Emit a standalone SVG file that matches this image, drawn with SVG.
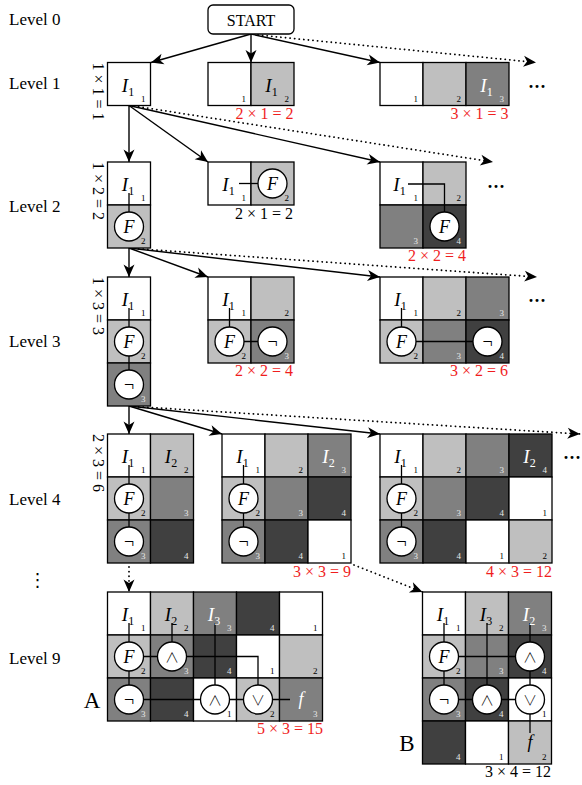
<svg xmlns="http://www.w3.org/2000/svg" width="582" height="785" viewBox="0 0 582 785">
<defs>
<marker id="ah" viewBox="-13 -7 14 14" refX="0" refY="0" markerWidth="14" markerHeight="14" markerUnits="userSpaceOnUse" orient="auto">
<path d="M0,0 L-12.5,-5.5 L-9,0 L-12.5,5.5 Z" fill="#000"/>
</marker>
</defs>
<style>
.f1{fill:#fff}.f2{fill:#bfbfbf}.f3{fill:#808080}.f4{fill:#404040}
rect{stroke:#000;stroke-width:1.3}
.w{fill:none;stroke:#000;stroke-width:1.3}
.g{fill:#fff;stroke:#000;stroke-width:1.3}
.t{font-family:'Liberation Serif';}
.n{font-size:9px;text-anchor:end}
.d{fill:#000}.l{fill:#e8e8e8}
.I{font-size:19px;font-style:italic;text-anchor:middle}
.I tspan{font-size:12px;font-style:normal}
.s{font-size:18px;text-anchor:middle}
.op{font-family:'Noto Sans CJK JP','DejaVu Sans',sans-serif;font-size:14px;font-weight:300;text-anchor:middle}
.it{font-style:italic}
.wt{fill:#fff}
.red{fill:#f01e1e}
.m{font-size:16px;text-anchor:end}
.r{font-size:16px}
.lv{font-size:17px}
.dots{font-size:18px;font-weight:bold}
.cn{fill:none;stroke:#000;stroke-width:1.4}
.dt{stroke-dasharray:0.1 4.5;stroke-linecap:round;stroke-width:1.8}
</style>

<g id="labels" class="t" font-family="Liberation Serif">
<text class="lv" x="9" y="25">Level 0</text>
<text class="lv" x="9" y="89">Level 1</text>
<text class="lv" x="9" y="212">Level 2</text>
<text class="lv" x="9" y="347">Level 3</text>
<text class="lv" x="9" y="505">Level 4</text>
<text class="lv" x="9" y="664">Level 9</text>
<text x="37.5" y="586" style="font-family:'DejaVu Sans',sans-serif;font-size:18px;text-anchor:middle">⋮</text>
<text class="r" transform="translate(92.5,62.5) rotate(90)">1 × 1 = 1</text>
<text class="r" transform="translate(92.5,162) rotate(90)">1 × 2 = 2</text>
<text class="r" transform="translate(92.5,277) rotate(90)">1 × 3 = 3</text>
<text class="r" transform="translate(92.5,434) rotate(90)">2 × 3 = 6</text>
<text class="dots" x="528" y="92.5">···</text>
<text class="dots" x="487" y="192.5">···</text>
<text class="dots" x="528" y="306.5">···</text>
<text class="dots" x="563" y="464">···</text>
<text x="92" y="708" style="font-size:23px;text-anchor:middle">A</text>
<text x="407" y="751" style="font-size:23px;text-anchor:middle">B</text>
</g>

<g id="connectors">
<line class="cn" x1="251" y1="34" x2="151" y2="62.5" marker-end="url(#ah)"/>
<line class="cn" x1="251" y1="34" x2="251" y2="62.5" marker-end="url(#ah)"/>
<line class="cn" x1="251" y1="34" x2="380" y2="62.5" marker-end="url(#ah)"/>
<line class="cn dt" x1="258" y1="35" x2="536" y2="62.5" marker-end="url(#ah)"/>
<line class="cn" x1="129" y1="105.5" x2="129" y2="162" marker-end="url(#ah)"/>
<line class="cn" x1="129" y1="105.5" x2="208" y2="162" marker-end="url(#ah)"/>
<line class="cn" x1="129" y1="105.5" x2="380" y2="162" marker-end="url(#ah)"/>
<line class="cn dt" x1="134" y1="106" x2="493" y2="162" marker-end="url(#ah)"/>
<line class="cn" x1="129" y1="248" x2="129" y2="277" marker-end="url(#ah)"/>
<line class="cn" x1="129" y1="248" x2="208" y2="277" marker-end="url(#ah)"/>
<line class="cn" x1="129" y1="248" x2="380" y2="277" marker-end="url(#ah)"/>
<line class="cn dt" x1="134" y1="248.5" x2="537" y2="277" marker-end="url(#ah)"/>
<line class="cn" x1="129" y1="406" x2="129" y2="434" marker-end="url(#ah)"/>
<line class="cn" x1="129" y1="406" x2="222" y2="434" marker-end="url(#ah)"/>
<line class="cn" x1="129" y1="406" x2="380" y2="434" marker-end="url(#ah)"/>
<line class="cn dt" x1="134" y1="406.5" x2="580" y2="434" marker-end="url(#ah)"/>
<line class="cn dt" x1="129" y1="567" x2="129" y2="592" marker-end="url(#ah)"/>
<line class="cn dt" x1="354" y1="565" x2="422.5" y2="592" marker-end="url(#ah)"/>
</g>

<g id="start" class="t" font-family="Liberation Serif">
<rect x="208" y="5" width="86" height="29" rx="5" fill="#fff"/>
<text x="251" y="25.5" style="font-size:16px;text-anchor:middle">START</text>
</g>

<g id="n1a" class="t" font-family="Liberation Serif">
<rect class="f1" x="107.5" y="62.5" width="43" height="43"/>
<text class="I" x="128" y="91.5">I<tspan dy="4">1</tspan></text>
<text class="n d" x="145.5" y="101.5">1</text>
</g>

<g id="n1b" class="t" font-family="Liberation Serif">
<rect class="f1" x="208" y="62.5" width="43" height="43"/>
<rect class="f2" x="251" y="62.5" width="43" height="43"/>
<text class="I" x="271.5" y="91.5">I<tspan dy="4">1</tspan></text>
<text class="n d" x="246" y="101.5">1</text>
<text class="n d" x="289" y="101.5">2</text>
<text class="m red" x="293.5" y="118.5">2 × 1 = 2</text>
</g>

<g id="n1c" class="t" font-family="Liberation Serif">
<rect class="f1" x="380" y="62.5" width="43" height="43"/>
<rect class="f2" x="423" y="62.5" width="43" height="43"/>
<rect class="f3" x="466" y="62.5" width="43" height="43"/>
<text class="I wt" x="486.5" y="91.5">I<tspan dy="4">1</tspan></text>
<text class="n d" x="418" y="101.5">1</text>
<text class="n d" x="461" y="101.5">2</text>
<text class="n l" x="504" y="101.5">3</text>
<text class="m red" x="508.5" y="118.5">3 × 1 = 3</text>
</g>

<g id="n2a" class="t" font-family="Liberation Serif">
<rect class="f1" x="107.5" y="162" width="43" height="43"/>
<rect class="f2" x="107.5" y="205" width="43" height="43"/>
<path class="w" d="M129 193 V212"/>
<circle class="g" cx="129" cy="226.5" r="14.5"/>
<text class="I" x="128" y="191">I<tspan dy="4">1</tspan></text>
<text class="s it" x="129" y="232.5">F</text>
<text class="n d" x="145.5" y="201">1</text>
<text class="n d" x="145.5" y="244">2</text>
</g>

<g id="n2b" class="t" font-family="Liberation Serif">
<rect class="f1" x="208" y="162" width="43" height="43"/>
<rect class="f2" x="251" y="162" width="43" height="43"/>
<path class="w" d="M239 183.5 H258"/>
<circle class="g" cx="272.5" cy="183.5" r="14.5"/>
<text class="I" x="228.5" y="191">I<tspan dy="4">1</tspan></text>
<text class="s it" x="272.5" y="189.5">F</text>
<text class="n d" x="246" y="201">1</text>
<text class="n d" x="289" y="201">2</text>
<text class="m" x="293" y="218.5">2 × 1 = 2</text>
</g>

<g id="n2c" class="t" font-family="Liberation Serif">
<rect class="f1" x="380" y="162" width="43" height="43"/>
<rect class="f2" x="423" y="162" width="43" height="43"/>
<rect class="f3" x="380" y="205" width="43" height="43"/>
<rect class="f4" x="423" y="205" width="43" height="43"/>
<path class="w" d="M408 184 H444.5 V212"/>
<circle class="g" cx="444.5" cy="226.5" r="14.5"/>
<text class="I" x="399.5" y="191">I<tspan dy="4">1</tspan></text>
<text class="s it" x="444.5" y="232.5">F</text>
<text class="n d" x="418" y="201">1</text>
<text class="n d" x="461" y="201">2</text>
<text class="n l" x="418" y="244">3</text>
<text class="n l" x="461" y="244">4</text>
<text class="m red" x="466" y="260.5">2 × 2 = 4</text>
</g>

<g id="n3a" class="t" font-family="Liberation Serif">
<rect class="f1" x="107.5" y="277" width="43" height="43"/>
<rect class="f2" x="107.5" y="320" width="43" height="43"/>
<rect class="f3" x="107.5" y="363" width="43" height="43"/>
<path class="w" d="M129 308 V384.5"/>
<circle class="g" cx="129" cy="341.5" r="14.5"/>
<circle class="g" cx="129" cy="384.5" r="14.5"/>
<text class="I" x="128" y="306">I<tspan dy="4">1</tspan></text>
<text class="s it" x="129" y="347.5">F</text>
<text class="s" x="129" y="390.5">¬</text>
<text class="n d" x="145.5" y="316">1</text>
<text class="n d" x="145.5" y="359">2</text>
<text class="n l" x="145.5" y="402">3</text>
</g>

<g id="n3b" class="t" font-family="Liberation Serif">
<rect class="f1" x="208" y="277" width="43" height="43"/>
<rect class="f2" x="251" y="277" width="43" height="43"/>
<rect class="f2" x="208" y="320" width="43" height="43"/>
<rect class="f3" x="251" y="320" width="43" height="43"/>
<path class="w" d="M229.5 308 V341.5 H272.5"/>
<circle class="g" cx="229.5" cy="341.5" r="14.5"/>
<circle class="g" cx="272.5" cy="341.5" r="14.5"/>
<text class="I" x="228.5" y="306">I<tspan dy="4">1</tspan></text>
<text class="s it" x="229.5" y="347.5">F</text>
<text class="s" x="272.5" y="347.5">¬</text>
<text class="n d" x="246" y="316">1</text>
<text class="n d" x="289" y="316">2</text>
<text class="n d" x="246" y="359">2</text>
<text class="n l" x="289" y="359">3</text>
<text class="m red" x="293" y="375.5">2 × 2 = 4</text>
</g>

<g id="n3c" class="t" font-family="Liberation Serif">
<rect class="f1" x="380" y="277" width="43" height="43"/>
<rect class="f2" x="423" y="277" width="43" height="43"/>
<rect class="f3" x="466" y="277" width="43" height="43"/>
<rect class="f2" x="380" y="320" width="43" height="43"/>
<rect class="f3" x="423" y="320" width="43" height="43"/>
<rect class="f4" x="466" y="320" width="43" height="43"/>
<path class="w" d="M401.5 308 V341.5 H487.5"/>
<circle class="g" cx="401.5" cy="341.5" r="14.5"/>
<circle class="g" cx="487.5" cy="341.5" r="14.5"/>
<text class="I" x="400.5" y="306">I<tspan dy="4">1</tspan></text>
<text class="s it" x="401.5" y="347.5">F</text>
<text class="s" x="487.5" y="347.5">¬</text>
<text class="n d" x="418" y="316">1</text>
<text class="n d" x="461" y="316">2</text>
<text class="n l" x="504" y="316">3</text>
<text class="n d" x="418" y="359">2</text>
<text class="n l" x="461" y="359">3</text>
<text class="n l" x="504" y="359">4</text>
<text class="m red" x="508" y="375.5">3 × 2 = 6</text>
</g>

<g id="n4a" class="t" font-family="Liberation Serif">
<rect class="f1" x="107.5" y="434" width="43" height="43"/>
<rect class="f2" x="150.5" y="434" width="43" height="43"/>
<rect class="f2" x="107.5" y="477" width="43" height="43"/>
<rect class="f3" x="150.5" y="477" width="43" height="43"/>
<rect class="f3" x="107.5" y="520" width="43" height="43"/>
<rect class="f4" x="150.5" y="520" width="43" height="43"/>
<path class="w" d="M129 465 V541.5"/>
<circle class="g" cx="129" cy="498.5" r="14.5"/>
<circle class="g" cx="129" cy="541.5" r="14.5"/>
<text class="I" x="128" y="463">I<tspan dy="4">1</tspan></text>
<text class="I" x="171" y="463">I<tspan dy="4">2</tspan></text>
<text class="s it" x="129" y="504.5">F</text>
<text class="s" x="129" y="547.5">¬</text>
<text class="n d" x="145.5" y="473">1</text>
<text class="n d" x="188.5" y="473">2</text>
<text class="n d" x="145.5" y="516">2</text>
<text class="n l" x="188.5" y="516">3</text>
<text class="n l" x="145.5" y="559">3</text>
<text class="n l" x="188.5" y="559">4</text>
</g>

<g id="n4b" class="t" font-family="Liberation Serif">
<rect class="f1" x="222" y="434" width="43" height="43"/>
<rect class="f2" x="265" y="434" width="43" height="43"/>
<rect class="f3" x="308" y="434" width="43" height="43"/>
<rect class="f2" x="222" y="477" width="43" height="43"/>
<rect class="f3" x="265" y="477" width="43" height="43"/>
<rect class="f4" x="308" y="477" width="43" height="43"/>
<rect class="f3" x="222" y="520" width="43" height="43"/>
<rect class="f4" x="265" y="520" width="43" height="43"/>
<rect class="f1" x="308" y="520" width="43" height="43"/>
<path class="w" d="M243.5 465 V541.5"/>
<circle class="g" cx="243.5" cy="498.5" r="14.5"/>
<circle class="g" cx="243.5" cy="541.5" r="14.5"/>
<text class="I" x="242.5" y="463">I<tspan dy="4">1</tspan></text>
<text class="I wt" x="328.5" y="463">I<tspan dy="4">2</tspan></text>
<text class="s it" x="243.5" y="504.5">F</text>
<text class="s" x="243.5" y="547.5">¬</text>
<text class="n d" x="260" y="473">1</text>
<text class="n d" x="303" y="473">2</text>
<text class="n l" x="346" y="473">3</text>
<text class="n d" x="260" y="516">2</text>
<text class="n l" x="303" y="516">3</text>
<text class="n l" x="346" y="516">4</text>
<text class="n l" x="260" y="559">3</text>
<text class="n l" x="303" y="559">4</text>
<text class="n d" x="346" y="559">1</text>
<text class="m red" x="351" y="576.5">3 × 3 = 9</text>
</g>

<g id="n4c" class="t" font-family="Liberation Serif">
<rect class="f1" x="380" y="434" width="43" height="43"/>
<rect class="f2" x="423" y="434" width="43" height="43"/>
<rect class="f3" x="466" y="434" width="43" height="43"/>
<rect class="f4" x="509" y="434" width="43" height="43"/>
<rect class="f2" x="380" y="477" width="43" height="43"/>
<rect class="f3" x="423" y="477" width="43" height="43"/>
<rect class="f4" x="466" y="477" width="43" height="43"/>
<rect class="f1" x="509" y="477" width="43" height="43"/>
<rect class="f3" x="380" y="520" width="43" height="43"/>
<rect class="f4" x="423" y="520" width="43" height="43"/>
<rect class="f1" x="466" y="520" width="43" height="43"/>
<rect class="f2" x="509" y="520" width="43" height="43"/>
<path class="w" d="M401.5 465 V541.5"/>
<circle class="g" cx="401.5" cy="498.5" r="14.5"/>
<circle class="g" cx="401.5" cy="541.5" r="14.5"/>
<text class="I" x="400.5" y="463">I<tspan dy="4">1</tspan></text>
<text class="I wt" x="529.5" y="463">I<tspan dy="4">2</tspan></text>
<text class="s it" x="401.5" y="504.5">F</text>
<text class="s" x="401.5" y="547.5">¬</text>
<text class="n d" x="418" y="473">1</text>
<text class="n d" x="461" y="473">2</text>
<text class="n l" x="504" y="473">3</text>
<text class="n l" x="547" y="473">4</text>
<text class="n d" x="418" y="516">2</text>
<text class="n l" x="461" y="516">3</text>
<text class="n l" x="504" y="516">4</text>
<text class="n d" x="547" y="516">1</text>
<text class="n l" x="418" y="559">3</text>
<text class="n l" x="461" y="559">4</text>
<text class="n d" x="504" y="559">1</text>
<text class="n d" x="547" y="559">2</text>
<text class="m red" x="552" y="576.5">4 × 3 = 12</text>
</g>

<g id="n9a" class="t" font-family="Liberation Serif">
<rect class="f1" x="107.5" y="592" width="43" height="43"/>
<rect class="f2" x="150.5" y="592" width="43" height="43"/>
<rect class="f3" x="193.5" y="592" width="43" height="43"/>
<rect class="f4" x="236.5" y="592" width="43" height="43"/>
<rect class="f1" x="279.5" y="592" width="43" height="43"/>
<rect class="f2" x="107.5" y="635" width="43" height="43"/>
<rect class="f3" x="150.5" y="635" width="43" height="43"/>
<rect class="f4" x="193.5" y="635" width="43" height="43"/>
<rect class="f1" x="236.5" y="635" width="43" height="43"/>
<rect class="f2" x="279.5" y="635" width="43" height="43"/>
<rect class="f3" x="107.5" y="678" width="43" height="43"/>
<rect class="f4" x="150.5" y="678" width="43" height="43"/>
<rect class="f1" x="193.5" y="678" width="43" height="43"/>
<rect class="f2" x="236.5" y="678" width="43" height="43"/>
<rect class="f3" x="279.5" y="678" width="43" height="43"/>
<path class="w" d="M129 623 V699.5 M172 623 V656.5 M129 656.5 H258 V699.5 M215 623 V699.5 M129 699.5 H290"/>
<circle class="g" cx="129" cy="656.5" r="14.5"/>
<circle class="g" cx="172" cy="656.5" r="14.5"/>
<circle class="g" cx="129" cy="699.5" r="14.5"/>
<circle class="g" cx="215" cy="699.5" r="14.5"/>
<circle class="g" cx="258" cy="699.5" r="14.5"/>
<text class="I" x="128" y="621">I<tspan dy="4">1</tspan></text>
<text class="I" x="171" y="621">I<tspan dy="4">2</tspan></text>
<text class="I wt" x="214" y="621">I<tspan dy="4">3</tspan></text>
<text class="s it" x="129" y="662.5">F</text>
<text class="op" x="172" y="662">∧</text>
<text class="s" x="129" y="705.5">¬</text>
<text class="op" x="215" y="705">∧</text>
<text class="op" x="258" y="705">∨</text>
<text class="s it wt" x="301" y="705">f</text>
<text class="n d" x="145.5" y="631">1</text>
<text class="n d" x="188.5" y="631">2</text>
<text class="n l" x="231.5" y="631">3</text>
<text class="n l" x="274.5" y="631">4</text>
<text class="n d" x="317.5" y="631">1</text>
<text class="n d" x="145.5" y="674">2</text>
<text class="n l" x="188.5" y="674">3</text>
<text class="n l" x="231.5" y="674">4</text>
<text class="n d" x="274.5" y="674">1</text>
<text class="n d" x="317.5" y="674">2</text>
<text class="n l" x="145.5" y="717">3</text>
<text class="n l" x="188.5" y="717">4</text>
<text class="n d" x="231.5" y="717">1</text>
<text class="n d" x="274.5" y="717">2</text>
<text class="n l" x="317.5" y="717">3</text>
<text class="m red" x="323" y="734">5 × 3 = 15</text>
</g>

<g id="n9b" class="t" font-family="Liberation Serif">
<rect class="f1" x="422.5" y="592" width="43" height="43"/>
<rect class="f2" x="465.5" y="592" width="43" height="43"/>
<rect class="f3" x="508.5" y="592" width="43" height="43"/>
<rect class="f2" x="422.5" y="635" width="43" height="43"/>
<rect class="f3" x="465.5" y="635" width="43" height="43"/>
<rect class="f4" x="508.5" y="635" width="43" height="43"/>
<rect class="f3" x="422.5" y="678" width="43" height="43"/>
<rect class="f4" x="465.5" y="678" width="43" height="43"/>
<rect class="f1" x="508.5" y="678" width="43" height="43"/>
<rect class="f4" x="422.5" y="721" width="43" height="43"/>
<rect class="f1" x="465.5" y="721" width="43" height="43"/>
<rect class="f2" x="508.5" y="721" width="43" height="43"/>
<path class="w" d="M444 623 V699.5 M487 623 V699.5 M530 623 V733 M444 656.5 H530 M444 699.5 H530"/>
<circle class="g" cx="444" cy="656.5" r="14.5"/>
<circle class="g" cx="530" cy="656.5" r="14.5"/>
<circle class="g" cx="444" cy="699.5" r="14.5"/>
<circle class="g" cx="487" cy="699.5" r="14.5"/>
<circle class="g" cx="530" cy="699.5" r="14.5"/>
<text class="I" x="443" y="621">I<tspan dy="4">1</tspan></text>
<text class="I" x="486" y="621">I<tspan dy="4">3</tspan></text>
<text class="I wt" x="529" y="621">I<tspan dy="4">2</tspan></text>
<text class="s it" x="444" y="662.5">F</text>
<text class="op" x="530" y="662">∧</text>
<text class="s" x="444" y="705.5">¬</text>
<text class="op" x="487" y="705">∧</text>
<text class="op" x="530" y="705">∨</text>
<text class="s it" x="530" y="748">f</text>
<text class="n d" x="460.5" y="631">1</text>
<text class="n d" x="503.5" y="631">2</text>
<text class="n l" x="546.5" y="631">3</text>
<text class="n d" x="460.5" y="674">2</text>
<text class="n l" x="503.5" y="674">3</text>
<text class="n l" x="546.5" y="674">4</text>
<text class="n l" x="460.5" y="717">3</text>
<text class="n l" x="503.5" y="717">4</text>
<text class="n d" x="546.5" y="717">1</text>
<text class="n l" x="460.5" y="760">4</text>
<text class="n d" x="503.5" y="760">1</text>
<text class="n d" x="546.5" y="760">2</text>
<text class="m" x="551" y="776.5">3 × 4 = 12</text>
</g>
</svg>
